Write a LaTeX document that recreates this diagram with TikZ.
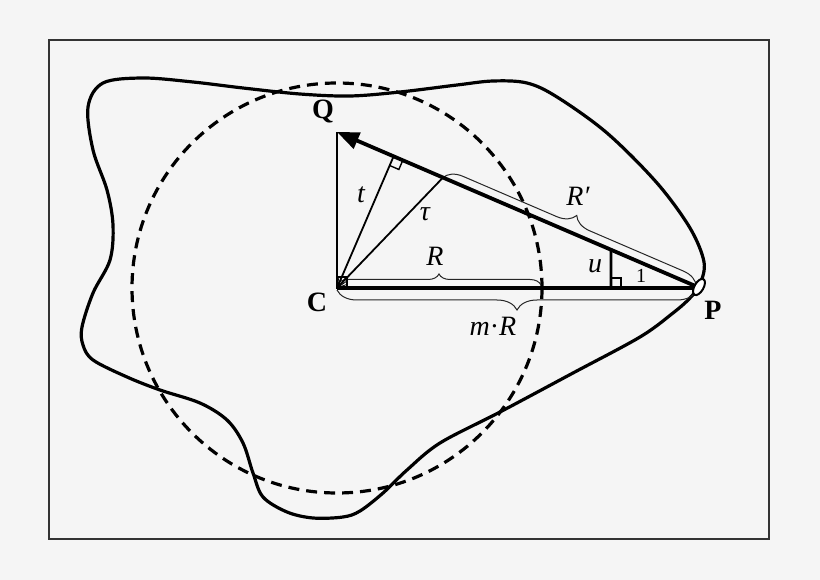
\documentclass[tikz,border=0pt]{standalone}
\usepackage{fontspec}
\setmainfont{Liberation Serif}
\usetikzlibrary{calc,arrows.meta,decorations.pathreplacing,shapes.geometric}
\begin{document}
\begin{tikzpicture}[x=1pt,y=-1pt,
  lbl/.style={font=\fontsize{28}{32}\selectfont\itshape, inner sep=0pt},
  ptlbl/.style={font=\fontsize{28}{32}\selectfont\bfseries, inner sep=0pt},
  thick line/.style={line width=3.8pt},
  thin line/.style={line width=1.8pt},
  bracestyle/.style={decorate, line width=1pt, black!85},
  blob/.style={line width=3.2pt},
  dashcircle/.style={line width=3.2pt, dash pattern=on 11pt off 7pt}]
\fill[black!4] (0,0) rectangle (820,580);
\useasboundingbox (0,0) rectangle (820,580);
\draw[line width=1.5pt, black!80] (49,40) rectangle (769,539);

% points
\coordinate (C) at (337,288);
\coordinate (P) at (700,288);
\coordinate (Q) at (337,132);
\coordinate (E) at (542,288);
\coordinate (T) at ($(P)!0.708!(Q)$);
\coordinate (U) at ($(P)!0.2452!(Q)$);
\coordinate (V) at (611,288);
\coordinate (F) at ($(P)!(C)!(Q)$);

% blob
\draw[blob] plot[smooth cycle, tension=0.55] coordinates {
(103,83) (143,78) (193,82) (243,88) (300,94) (350,96) (400,92) (457,85) (493,81) (527,83)
(557,97) (607,133) (657,183) (690,228) (704,262) (700,284) (690,298) (673,313) (640,337)
(573,373) (500,412) (440,443) (407,470) (383,493) (360,511) (343,517) (313,518) (287,512)
(263,497) (253,473) (243,443) (227,420) (200,403) (160,390) (127,377) (93,360) (83,345)
(82,327) (93,293) (110,260) (113,225) (107,190) (93,150) (88,107)};

% dashed circle
\draw[dashcircle] (C) circle[radius=205];

% braces
\draw[bracestyle, decoration={brace, amplitude=11pt}] (337,285) -- (541,285);
\draw[bracestyle, decoration={brace, amplitude=20pt}] (697,290) -- (337,290);
\draw[bracestyle, decoration={brace, amplitude=18pt}] (T) -- ($(P)!4pt!(Q)$);

% thin lines
\draw[thin line] (C) -- (Q);
\draw[thin line] (C) -- (F);
\draw[thin line] (C) -- (T);
\draw[line width=2.6pt] (V) -- (U);

% right angle marks
\draw[line width=1.4pt] (F) -- ($(F)!10pt!(P)$) -- ($($(F)!10pt!(P)$)!10pt!90:(F)$) -- ($(F)!10pt!(C)$);
\draw[line width=1.4pt] (611,278) -- (621,278) -- (621,288);
\begin{scope}
\clip (337,277) rectangle (347,288);
\foreach \a in {20,35,50,65,80} {\draw[line width=0.8pt] (C) -- ++(-\a:16);}
\end{scope}
\draw[line width=1.4pt] (337,277) rectangle (347,288);

% main lines
\draw[thick line] (C) -- (P);
\draw[thick line, -{Triangle[length=22pt,width=17pt]}] (P) -- (Q);

% P marker
\node[ellipse, draw, fill=white, line width=2pt, minimum width=9pt, minimum height=18pt, inner sep=0pt, rotate=-30] (Pm) at (699,287) {};

% labels
\node[ptlbl] (lQ) at (323,112) {Q};
\node[ptlbl] (lC) at (317,302) {C};
\node[ptlbl] (lP) at (713,310) {P};
\node[lbl] (lt) at (361,195) {t};
\node[lbl] (ltau) at (425,214) {τ};
\node[lbl] (lR) at (435,256) {R};
\node[lbl] (lRp) at (578,196) {R′};
\node[lbl] (lu) at (595,266) {u};
\node[font=\fontsize{20}{24}\selectfont, inner sep=0pt] (l1) at (641,276) {1};
\node[lbl] (lmR) at (493,326) {m\textup{·}R};
\end{tikzpicture}
\end{document}
